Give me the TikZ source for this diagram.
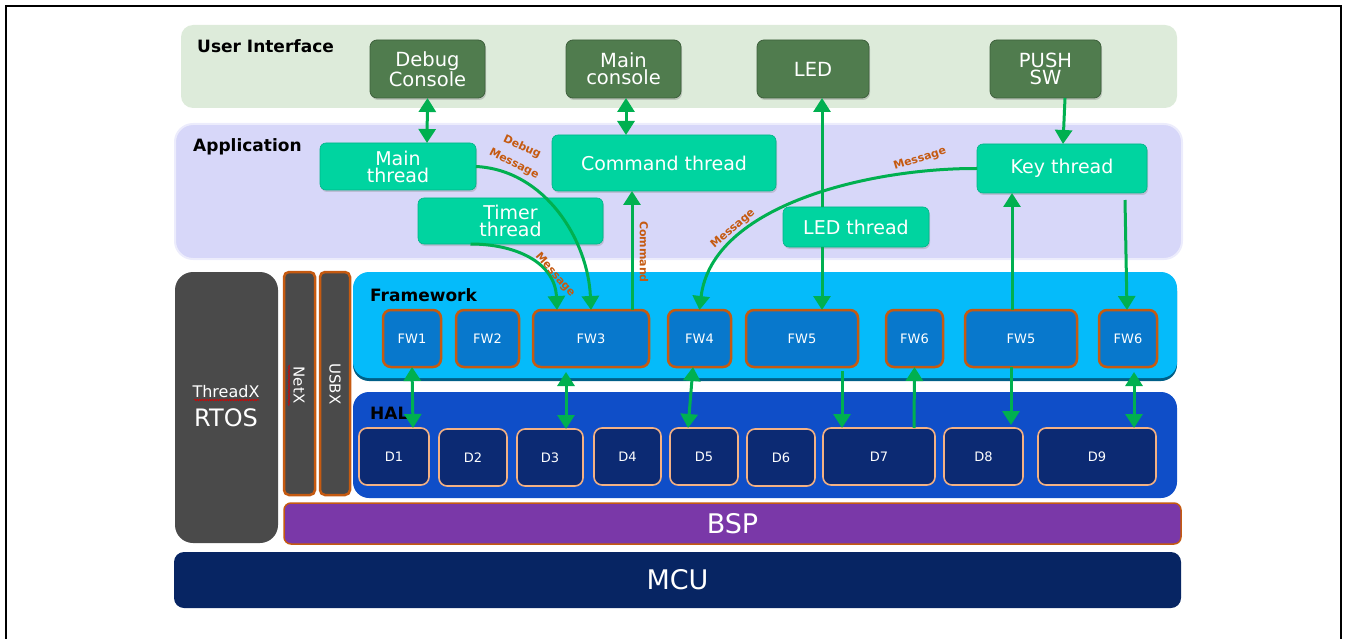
\documentclass[tikz,border=0pt]{standalone}
\usepackage{fontspec}
\setmainfont{DejaVu Sans}
\usetikzlibrary{arrows.meta,shadows,decorations.pathmorphing}
\definecolor{uibg}{RGB}{221,235,218}
\definecolor{uigreen}{RGB}{80,124,78}
\definecolor{uigreenb}{RGB}{62,96,60}
\definecolor{appbg}{RGB}{215,215,249}
\definecolor{appbd}{RGB}{236,236,252}
\definecolor{thrc}{RGB}{0,212,160}
\definecolor{thrb}{RGB}{0,180,136}
\definecolor{rtosc}{RGB}{74,74,74}
\definecolor{orng}{RGB}{197,90,17}
\definecolor{fwkc}{RGB}{5,187,250}
\definecolor{fwkd}{RGB}{0,95,135}
\definecolor{fwc}{RGB}{8,120,204}
\definecolor{halc}{RGB}{15,78,200}
\definecolor{dvc}{RGB}{12,42,115}
\definecolor{dvb}{RGB}{244,177,131}
\definecolor{bspc}{RGB}{122,56,168}
\definecolor{mcuc}{RGB}{7,37,99}
\definecolor{agreen}{RGB}{0,176,80}
\newcommand\bx[7]{\node[#6, minimum width=#4pt-#2pt, minimum height=#5pt-#3pt] (#1) at ({(#2+#4)/2},{(#3+#5)/2}) {#7};}
\begin{document}
\begin{tikzpicture}[x=1pt,y=-1pt,
  band/.style={inner sep=0pt, outer sep=0pt},
  lbl/.style={font=\fontsize{17}{20}\selectfont\bfseries, anchor=west, inner sep=0pt},
  ui/.style={band, fill=uigreen, draw=uigreenb, line width=0.8pt, rounded corners=7pt, text=white, align=center, font=\fontsize{19.5}{17}\selectfont, drop shadow={shadow xshift=1pt,shadow yshift=-2pt,opacity=.35}},
  thr/.style={band, fill=thrc, draw=thrb, line width=0.6pt, rounded corners=6pt, text=white, align=center, font=\fontsize{19}{17}\selectfont, drop shadow={shadow xshift=1pt,shadow yshift=-2pt,opacity=.3}},
  fw/.style={band, fill=fwc, draw=orng, line width=2.5pt, rounded corners=8pt, text=white, font=\fontsize{13}{14}\selectfont},
  dv/.style={band, fill=dvc, draw=dvb, line width=1.6pt, rounded corners=8pt, text=white, font=\fontsize{13}{14}\selectfont},
  arr/.style={draw=agreen, line width=3pt, -{Triangle[length=14pt,width=17pt]}},
  darr/.style={draw=agreen, line width=3pt, {Triangle[length=14pt,width=17pt]}-{Triangle[length=14pt,width=17pt]}},
  olab/.style={text=orng, font=\fontsize{11}{12}\selectfont\bfseries, inner sep=0pt},
  squig/.style={draw=red!85!black, line width=0.6pt, decorate, decoration={snake, amplitude=0.7pt, segment length=2.5pt}}
]
\useasboundingbox (0,0) rectangle (1346,639);
% frame
\draw[line width=2.5pt] (6,639) -- (6,6) -- (1341,6) -- (1341,639);

% bands
\bx{ui}{181}{25}{1177}{108}{band, fill=uibg, rounded corners=12pt}{}
\node[lbl] (uil) at (197,46) {User Interface};
\bx{app}{175}{124}{1182}{259}{band, fill=appbg, draw=appbd, line width=2pt, rounded corners=18pt}{}
\node[lbl] (appl) at (193,147) {Application};
\bx{rtos}{175}{272}{278}{543}{band, fill=rtosc, rounded corners=18pt}{}
\node[text=white, font=\fontsize{16}{18}\selectfont, inner sep=0pt] (tx) at (226,392) {ThreadX};
\node[text=white, font=\fontsize{24}{26}\selectfont, inner sep=0pt] (rt) at (226,418) {RTOS};
\draw[squig] (194,400) -- (259,400);
\bx{netx}{284}{272}{315}{495}{band, fill=rtosc, draw=orng, line width=2.5pt, rounded corners=5pt}{}
\node[rotate=-90, text=white, font=\fontsize{15}{16}\selectfont, inner sep=0pt] (netxl) at (299,385) {NetX};
\draw[squig] (289,365) -- (289,406);
\bx{usbx}{320}{272}{350}{495}{band, fill=rtosc, draw=orng, line width=2.5pt, rounded corners=5pt}{}
\node[rotate=-90, text=white, font=\fontsize{15}{16}\selectfont, inner sep=0pt] (usbxl) at (335,384) {USBX};
\bx{fwk}{353}{272}{1177}{378}{band, fill=fwkc, rounded corners=16pt, drop shadow={shadow xshift=0pt, shadow yshift=-3pt, fill=fwkd, opacity=1}}{}
\node[lbl] (fwkl) at (370,295) {Framework};
\bx{hal}{353}{392}{1177}{498}{band, fill=halc, rounded corners=16pt}{}
\node[lbl] (hall) at (370,413) {HAL};
\bx{bsp}{284}{503}{1181}{544}{band, fill=bspc, draw=orng, line width=1.5pt, rounded corners=7pt, text=white, font=\fontsize{27}{28}\selectfont}{BSP}
\bx{mcu}{174}{552}{1181}{608}{band, fill=mcuc, rounded corners=10pt, text=white, font=\fontsize{27}{28}\selectfont}{MCU}

% user interface boxes
\bx{dbg}{370}{40}{485}{98}{ui}{Debug\\Console}
\bx{mcon}{566}{40}{681}{98}{ui}{Main\\console}
\bx{led}{757}{40}{869}{98}{ui}{LED}
\bx{push}{990}{40}{1101}{98}{ui}{PUSH\\SW}

% threads
\bx{mth}{320}{143}{476}{190}{thr}{Main\\thread}
\bx{tmr}{418}{198}{603}{244}{thr}{Timer\\thread}
\bx{cmd}{552}{135}{776}{191}{thr}{Command thread}
\bx{key}{977}{144}{1147}{193}{thr}{Key thread}
\bx{ledt}{783}{207}{929}{247}{thr}{LED thread}

% framework boxes
\bx{fw1}{383}{310}{441}{367}{fw}{FW1}
\bx{fw2}{456}{310}{519}{367}{fw}{FW2}
\bx{fw3}{533}{310}{649}{367}{fw}{FW3}
\bx{fw4}{668}{310}{731}{367}{fw}{FW4}
\bx{fw5}{746}{310}{858}{367}{fw}{FW5}
\bx{fw6}{886}{310}{943}{367}{fw}{FW6}
\bx{fw5b}{965}{310}{1077}{367}{fw}{FW5}
\bx{fw6b}{1099}{310}{1157}{367}{fw}{FW6}

% device boxes
\bx{d1}{359}{428}{429}{485}{dv}{D1}
\bx{d2}{439}{429}{507}{486}{dv}{D2}
\bx{d3}{517}{429}{583}{486}{dv}{D3}
\bx{d4}{594}{428}{661}{485}{dv}{D4}
\bx{d5}{670}{428}{738}{485}{dv}{D5}
\bx{d6}{747}{429}{815}{486}{dv}{D6}
\bx{d7}{823}{428}{935}{485}{dv}{D7}
\bx{d8}{944}{428}{1023}{485}{dv}{D8}
\bx{d9}{1038}{428}{1156}{485}{dv}{D9}

% connectors
\draw[darr] (dbg.south) -- ([xshift=29pt]mth.north);
\draw[darr] ([xshift=2.5pt]mcon.south) -- ([xshift=-38pt]cmd.north);
\draw[arr] ([xshift=-34pt]ledt.north) -- ([xshift=9pt]led.south);
\draw[arr] ([xshift=19.5pt]push.south) -- ([xshift=1pt]key.north);
\draw[arr] (mth.east) .. controls (545,170) and (588,240) .. (fw3.north);
\draw[arr] ([xshift=-40pt]tmr.south) .. controls (515,244) and (555,262) .. ([xshift=-34pt]fw3.north);
\draw[arr] ([xshift=41pt]fw3.north) -- ([xshift=-32pt]cmd.south);
\draw[arr] (key.west) .. controls (870,168) and (712,205) .. (fw4.north);
\draw[arr] ([xshift=-34pt]ledt.south) -- ([xshift=20pt]fw5.north);
\draw[arr] ([xshift=-9pt]fw5b.north) -- ([xshift=-50pt]key.south);
\draw[arr] ([xshift=63pt,yshift=-7pt]key.south) -- ([xshift=-1pt]fw6b.north);

\draw[darr] (fw1.south) -- ([xshift=19pt]d1.north);
\draw[darr] ([xshift=-25pt,yshift=-5pt]fw3.south) -- ([xshift=16pt]d3.north);
\draw[darr] ([xshift=-6.5pt]fw4.south) -- ([xshift=-16pt]d5.north);
\draw[arr] ([xshift=40pt,yshift=-4pt]fw5.south) -- ([xshift=-37pt]d7.north);
\draw[arr] ([xshift=35pt]d7.north) -- (fw6.south);
\draw[arr] ([xshift=-10pt]fw5b.south) -- ([xshift=27.5pt,yshift=3pt]d8.north);
\draw[darr] ([xshift=6pt,yshift=-5pt]fw6b.south) -- ([xshift=37pt]d9.north);

% connector labels
\node[olab, rotate=-25] (lb1) at (522,147) {Debug};
\node[olab, rotate=-27] (lb2) at (514,164) {Message};
\node[olab, rotate=-49] (lb3) at (555,275) {Message};
\node[olab, rotate=-90] (lb4) at (644,252) {Command};
\node[olab, rotate=17] (lb5) at (920,159) {Message};
\node[olab, rotate=41] (lb6) at (733,229) {Message};
\end{tikzpicture}
\end{document}
